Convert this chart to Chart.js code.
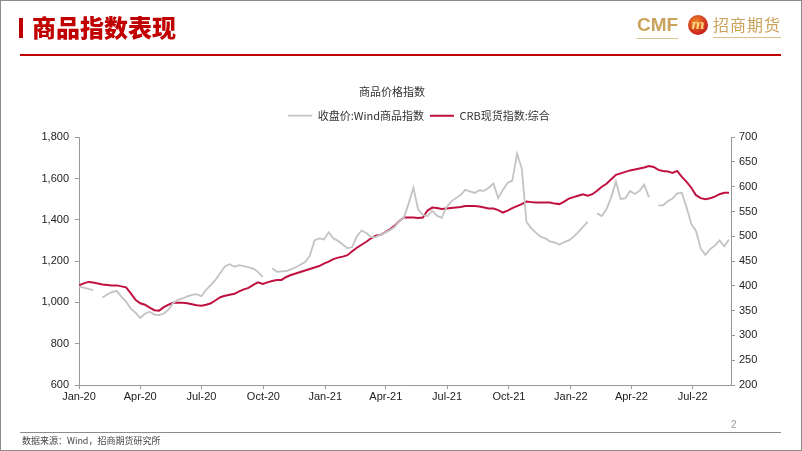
<!DOCTYPE html>
<html>
<head>
<meta charset="utf-8">
<script src="https://cdn.jsdelivr.net/npm/chart.js@4.4.0/dist/chart.umd.min.js"></script>
<style>
    body { margin: 0; background: #fff; }
    #page { position: relative; width: 802px; height: 451px; overflow: hidden; background: #fff; font-family: "Noto Sans CJK SC", sans-serif; }
    #frame { position: absolute; left: 0; top: 0; width: 802px; height: 451px; box-sizing: border-box; border: 1px solid #8c8c8c; pointer-events: none; }
    #c { position: absolute; left: 0; top: 0; }
    #bar { position: absolute; left: 19px; top: 18px; width: 4px; height: 20px; background: #c00000; }
    #title { position: absolute; left: 32px; top: 10px; font-size: 24px; font-weight: 900; color: #c00000; line-height: 34px; }
    #rule { position: absolute; left: 20px; top: 54px; width: 761px; height: 2px; background: #c00000; }
    #cmf { position: absolute; left: 637px; top: 13px; font-family: "Liberation Sans Narrow", "Liberation Sans", sans-serif; font-size: 19px; font-weight: bold; color: #c9a35b; line-height: 24px; border-bottom: 1px solid #d9c08c; padding-bottom: 1px; }
    #icon { position: absolute; left: 688px; top: 15px; width: 20px; height: 20px; border-radius: 50%; background: radial-gradient(circle at 40% 35%, #f08a2a, #c8201b 70%); color: #f6d27a; font: italic bold 13px "DejaVu Serif", serif; text-align: center; line-height: 19px; }
    #cn { position: absolute; left: 713px; top: 12px; font-size: 16px; color: #c9a35b; line-height: 24px; letter-spacing: 1px; border-bottom: 1px solid #d9c08c; padding-bottom: 1px; }
    #foot { position: absolute; left: 20px; top: 432px; width: 761px; height: 1px; background: #8c8c8c; }
    #pageno { position: absolute; left: 731px; top: 419px; font-size: 10px; color: #9a9a9a; font-family: "Liberation Sans", sans-serif; }
    #source { position: absolute; left: 22px; top: 434px; font-size: 9px; color: #444; line-height: 14px; }
</style>
</head>
<body>
<div id="page">
    <canvas id="c" width="802" height="451"></canvas>
    <div id="bar"></div>
    <div id="title">商品指数表现</div>
    <div id="cmf">CMF</div>
    <div id="icon">m</div>
    <div id="cn">招商期货</div>
    <div id="rule"></div>
    <div id="foot"></div>
    <div id="pageno">2</div>
    <div id="source">数据来源：Wind，招商期货研究所</div>
    <div id="frame"></div>
</div>
<script>
// 周度取样，起点 2020-01-01，每 7 天一个点
const startDate = '2020-01-01';
const stepDays = 7;

// 收盘价:Wind商品指数 (左轴)
const windIndex = [
    1076, 1072, 1066, 1058, null, 1024, 1038, 1050, 1056, 1028,
    1004, 970, 950, 925, 945, 955, 941, 939, 946, 965,
    998, 1012, 1019, 1029, 1036, 1040, 1030, 1062, 1084, 1110,
    1142, 1175, 1185, 1172, 1180, 1176, 1170, 1164, 1148, 1124,
    null, 1165, 1148, 1150, 1152, 1160, 1170, 1182, 1195, 1225,
    1300, 1310, 1305, 1340, 1310, 1298, 1280, 1262, 1268, 1320,
    1348, 1336, 1316, 1316, 1328, 1338, 1350, 1365, 1395, 1412,
    1480, 1555, 1450, 1424, 1418, 1444, 1420, 1410, 1460, 1488,
    1505, 1520, 1545, 1538, 1530, 1543, 1540, 1555, 1575, 1505,
    1544, 1578, 1590, 1720, 1650, 1390, 1360, 1338, 1318, 1310,
    1295, 1290, 1280, 1292, 1300, 1318, 1340, 1366, 1390, null,
    1431, 1418, 1452, 1510, 1585, 1500, 1505, 1540, 1525, 1540,
    1570, 1510, null, 1470, 1470, 1490, 1503, 1528, 1530, 1460,
    1380, 1346, 1260, 1230, 1258, 1275, 1300, 1272, 1305
];

// CRB现货指数:综合 (右轴)
const crbIndex = [
    401, 405, 408, 407, 405, 403, 402, 401, 401, 399,
    397, 385, 372, 365, 362, 356, 351, 350, 357, 362,
    366, 366, 366, 365, 363, 361, 360, 362, 365, 371,
    377, 380, 382, 384, 389, 393, 396, 402, 407, 404,
    407, 410, 412, 412, 418, 422, 425, 428, 431, 434,
    437, 440, 445, 449, 454, 457, 459, 462, 470, 477,
    483, 489, 496, 501, 503, 508, 514, 521, 531, 538,
    538, 538, 537, 538, 552, 558, 557, 555, 556, 557,
    558, 559, 561, 561, 561, 560, 558, 556, 556, 553,
    548, 552, 557, 561, 565, 570, 569, 568, 568, 568,
    568, 566, 565, 570, 576, 579, 582, 585, 582, 585,
    592, 600, 606, 615, 624, 627, 630, 633, 635, 637,
    639, 642, 640, 634, 632, 631, 628, 632, 620, 610,
    598, 583, 577, 575, 577, 580, 585, 588, 588
];

const tickDates = ['2020-01-01', '2020-04-01', '2020-07-01', '2020-10-01', '2021-01-01', '2021-04-01',
    '2021-07-01', '2021-10-01', '2022-01-01', '2022-04-01', '2022-07-01'];
const tickLabels = ['Jan-20', 'Apr-20', 'Jul-20', 'Oct-20', 'Jan-21', 'Apr-21',
    'Jul-21', 'Oct-21', 'Jan-22', 'Apr-22', 'Jul-22'];
const endDate = '2022-08-27';

function dayIndex(s) {
    return (Date.parse(s) - Date.parse(startDate)) / 86400000;
}

const tickDays = tickDates.map(dayIndex);
const toPoints = arr => arr.map((v, i) => ({ x: i * stepDays, y: v }));

const axisColor = '#9a9a9a';
const tickFont = { family: '"Liberation Sans", Arial, sans-serif', size: 11 };

// legend 下方多留几像素，标题/图例水平微调
const legendGap = {
    id: 'legendGap',
    beforeInit(chart) {
        const fit = chart.legend.fit;
        chart.legend.fit = function () {
            fit.call(this);
            this.height += 6;
        };
    },
    afterLayout(chart) {
        chart.legend.left += 19;
        chart.legend.right += 19;
        chart.titleBlock.left -= 8;
        chart.titleBlock.right -= 8;
    }
};

new Chart(document.getElementById('c'), {
    type: 'line',
    data: {
        datasets: [{
            label: '收盘价:Wind商品指数',
            data: toPoints(windIndex),
            yAxisID: 'y',
            borderColor: '#c3c3c3',
            backgroundColor: '#c3c3c3',
            borderWidth: 1.8,
            pointRadius: 0,
            tension: 0,
            spanGaps: false
        }, {
            label: 'CRB现货指数:综合',
            data: toPoints(crbIndex),
            yAxisID: 'y1',
            borderColor: '#c0103f',
            backgroundColor: '#c0103f',
            borderWidth: 2,
            pointRadius: 0,
            tension: 0
        }]
    },
    plugins: [legendGap],
    options: {
        responsive: false,
        animation: false,
        devicePixelRatio: 1,
        layout: { padding: { left: 19, right: 21, top: 80, bottom: 46 } },
        plugins: {
            title: {
                display: true,
                text: '商品价格指数',
                color: '#333',
                font: { family: '"Noto Sans CJK SC", sans-serif', size: 11, weight: 'normal' },
                padding: { top: 5, bottom: 6 }
            },
            legend: {
                display: true,
                labels: {
                    color: '#333',
                    font: { family: '"Noto Sans CJK SC", "Liberation Sans", sans-serif', size: 11 },
                    usePointStyle: true,
                    pointStyle: 'line',
                    pointStyleWidth: 24,
                    padding: 6
                }
            },
            tooltip: { enabled: false }
        },
        scales: {
            x: {
                type: 'linear',
                min: 0,
                max: dayIndex(endDate),
                afterBuildTicks: scale => { scale.ticks = tickDays.map(v => ({ value: v })); },
                afterFit: scale => { scale.height = 20; },
                ticks: {
                    autoSkip: false,
                    maxRotation: 0,
                    padding: 1,
                    color: '#222',
                    font: tickFont,
                    callback: (v, i) => tickLabels[i]
                },
                grid: { display: true, drawOnChartArea: false, tickLength: 4, color: axisColor },
                border: { display: true, color: axisColor }
            },
            y: {
                position: 'left',
                min: 600,
                max: 1800,
                afterFit: scale => { scale.width = 60; },
                ticks: {
                    stepSize: 200,
                    padding: 6,
                    color: '#222',
                    font: tickFont,
                    callback: v => v.toLocaleString('en-US')
                },
                grid: { display: true, drawOnChartArea: false, tickLength: 4, color: axisColor },
                border: { display: true, color: axisColor }
            },
            y1: {
                position: 'right',
                min: 200,
                max: 700,
                afterFit: scale => { scale.width = 50; },
                ticks: {
                    stepSize: 50,
                    padding: 4,
                    color: '#222',
                    font: tickFont
                },
                grid: { display: true, drawOnChartArea: false, tickLength: 4, color: axisColor },
                border: { display: true, color: axisColor }
            }
        }
    }
});
</script>
</body>
</html>
